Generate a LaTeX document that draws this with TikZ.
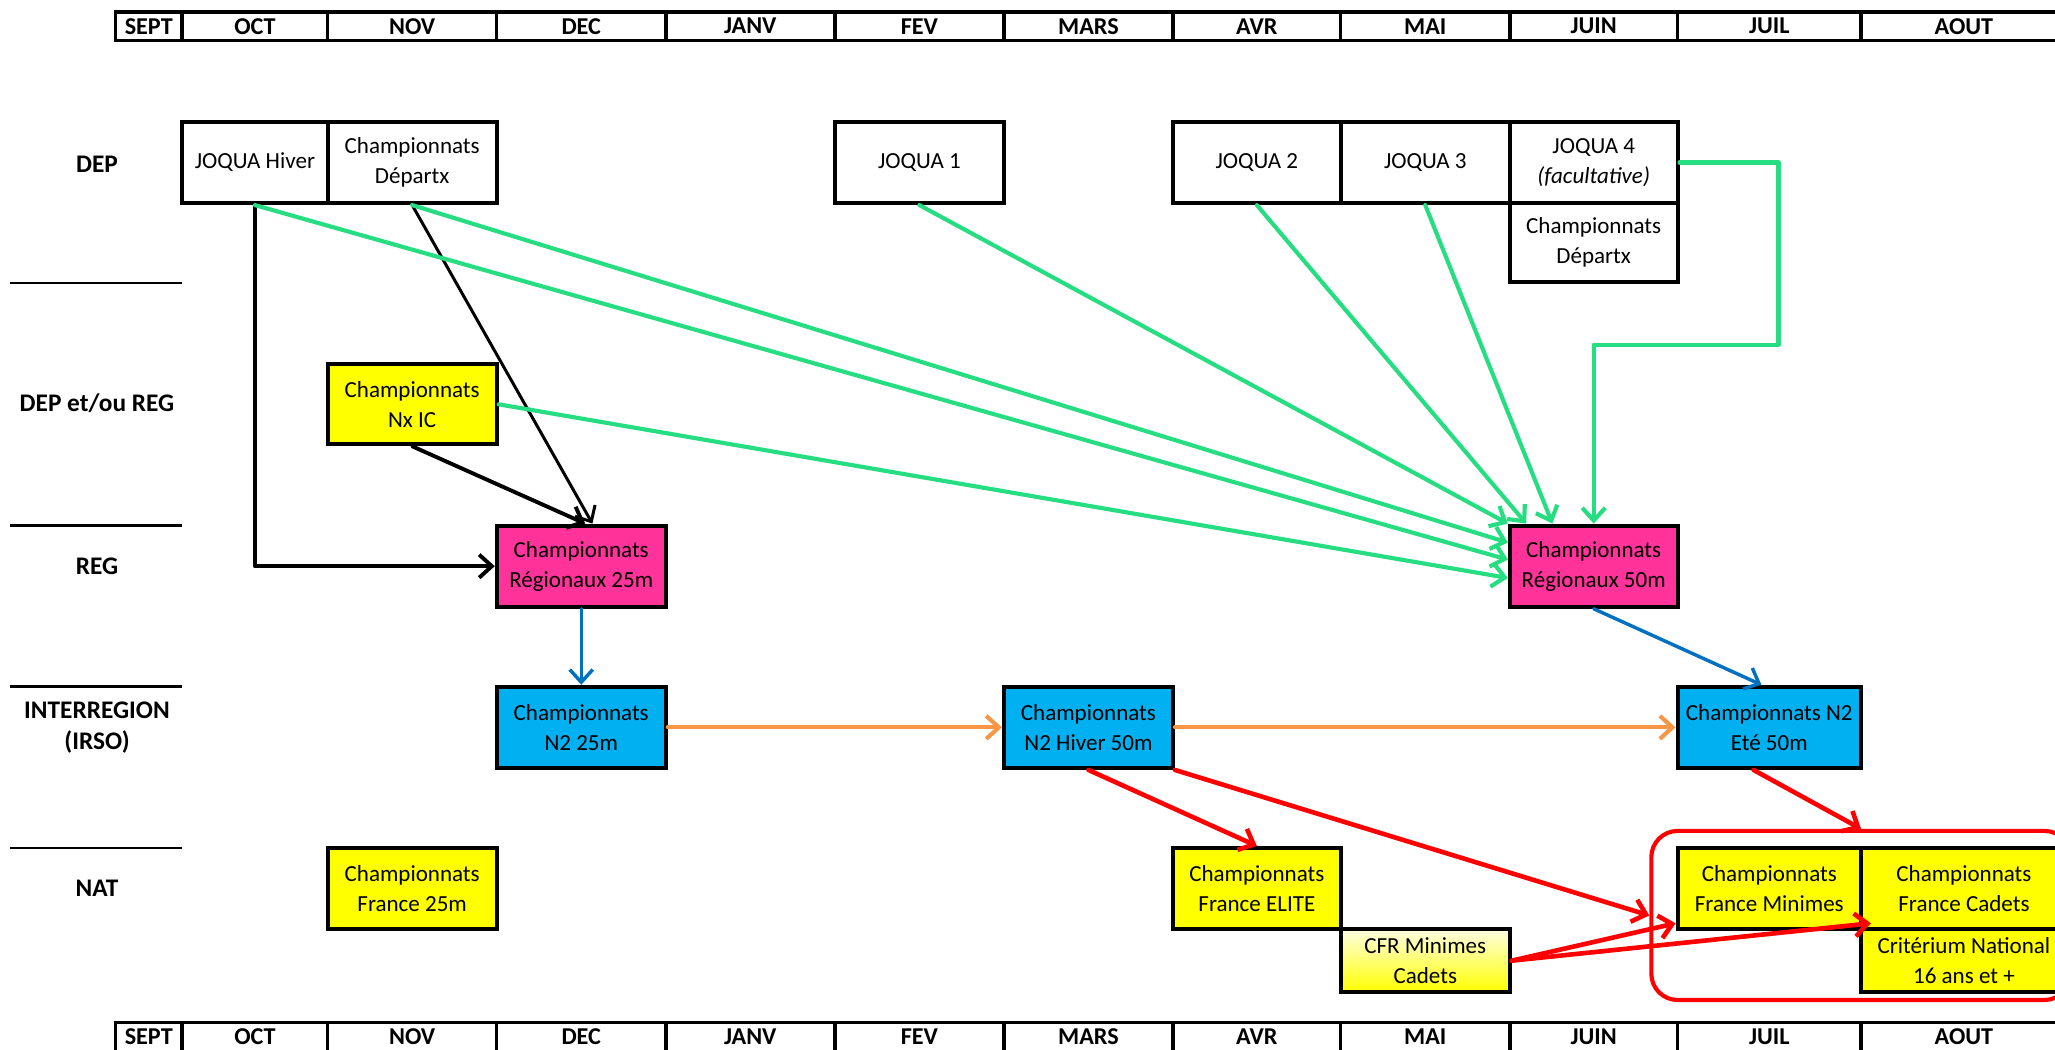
\documentclass[tikz,border=0pt]{standalone}
\usepackage{fontspec}
\setmainfont{Carlito}
\usetikzlibrary{arrows.meta,fit,calc}
\definecolor{gGreen}{RGB}{38,222,129}
\definecolor{gPink}{RGB}{255,51,153}
\definecolor{gCyan}{RGB}{0,176,240}
\definecolor{gOrange}{RGB}{247,150,70}
\definecolor{gBlue}{RGB}{0,112,192}
\definecolor{gYellow}{RGB}{255,255,0}
\definecolor{gRed}{RGB}{255,0,0}
% #1 options, #2 name, #3 x1, #4 y1, #5 x2, #6 y2, #7 text
\newcommand\bx[7][]{%
  \node[box,#1,minimum width={(#5-#3)*0.02cm},minimum height={(#6-#4)*0.02cm}]
    (#2) at ({(#3+#5)/2},{(#4+#6)/2}) {#7};}
\begin{document}
\begin{tikzpicture}[x=0.02cm,y=-0.02cm,
  box/.style={draw=black, line width=1.7pt, inner sep=0pt, align=center,
              font=\fontsize{10}{13}\selectfont, text=black},
  hdr/.style={draw=black, line width=1.5pt},
  hlab/.style={font=\bfseries\fontsize{10.5}{12}\selectfont, inner sep=0pt},
  rlab/.style={font=\bfseries\fontsize{11}{13.5}\selectfont, align=center, inner sep=0pt},
  sep/.style={draw=black, line width=1.2pt},
  conn/.style={line cap=round, line join=round,
               -{Straight Barb[length=5.5pt,width=10pt]}},
  garr/.style={conn, draw=gGreen, line width=1.8pt},
  karr/.style={conn, draw=black, line width=1.7pt},
  barr/.style={conn, draw=gBlue, line width=1.5pt},
  oarr/.style={conn, draw=gOrange, line width=1.8pt},
  rarr/.style={conn, draw=gRed, line width=2pt}
]
\useasboundingbox (0,0) rectangle (1568,801);
\clip (0,0) rectangle (1568,801);

% header and footer
\foreach \a/\b/\t [count=\i] in {88/139/SEPT,139/250/OCT,250/379/NOV,379/508/DEC,508/637/JANV,637/766/FEV,766/895/MARS,895/1023/AVR,1023/1152/MAI,1152/1280/JUIN,1280/1420/JUIL,1420/1577/AOUT}{
  \draw[hdr] (\a,9) rectangle (\b,31);
  \node[hlab] (h\i) at ({(\a+\b)/2},20) {\t};
  \draw[hdr] (\a,780) rectangle (\b,806);
  \node[hlab] (f\i) at ({(\a+\b)/2},791) {\t};
}

% row labels
\node[rlab] (lDEP) at (74,125) {DEP};
\node[rlab] (lDR) at (74,308) {DEP et/ou REG};
\node[rlab] (lREG) at (74,432) {REG};
\node[rlab] (lIR) at (74,555) {INTERREGION\\(IRSO)};
\node[rlab] (lNAT) at (74,678) {NAT};
\draw[black, line width=0.6pt] (8,216) -- (139,216);
\draw[sep] (8,401) -- (139,401);
\draw[sep] (8,524) -- (139,524);
\draw[sep] (8,647) -- (139,647);

% DEP boxes
\bx{jh}{139}{93}{250}{155}{JOQUA Hiver}
\bx{dpx}{250}{93}{379}{155}{Championnats\\Départx}
\bx{j1}{637}{93}{766}{155}{JOQUA 1}
\bx{j2}{895}{93}{1023}{155}{JOQUA 2}
\bx{j3}{1023}{93}{1152}{155}{JOQUA 3}
\bx{j4}{1152}{93}{1280}{155}{JOQUA 4\\\textit{(facultative)}}
\bx{dpx2}{1152}{155}{1280}{215}{Championnats\\Départx}

% DEP et/ou REG
\bx[fill=gYellow]{nxic}{250}{278}{379}{339}{Championnats\\Nx IC}

% REG
\bx[fill=gPink]{r25}{379}{401}{508}{463}{Championnats\\Régionaux 25m}
\bx[fill=gPink]{r50}{1152}{401}{1280}{463}{Championnats\\Régionaux 50m}

% INTERREGION
\bx[fill=gCyan]{n225}{379}{524}{508}{586}{Championnats\\N2 25m}
\bx[fill=gCyan]{n2h}{766}{524}{895}{586}{Championnats\\N2 Hiver 50m}
\bx[fill=gCyan]{n2e}{1280}{524}{1420}{586}{Championnats N2\\Eté 50m}

% NAT
\bx[fill=gYellow]{f25}{250}{647}{379}{709}{Championnats\\France 25m}
\bx[fill=gYellow]{elite}{895}{647}{1023}{709}{Championnats\\France ELITE}
\bx[top color={rgb,255:red,255;green,255;blue,225}, bottom color=gYellow]{cfr}{1023}{709}{1152}{757}{CFR Minimes\\Cadets}
\bx[fill=gYellow]{fmin}{1280}{647}{1420}{709}{Championnats\\France Minimes}
\bx[fill=gYellow]{fcad}{1420}{647}{1577}{709}{Championnats\\France Cadets}
\bx[fill=gYellow]{crit}{1420}{709}{1577}{757}{Critérium National\\16 ans et +}
\node[draw=gRed, line width=1.8pt, rounded corners=0.4cm, inner sep=0pt, fit={(1260,634) (1580,763)}] (grp) {};

% black connectors
\draw[karr] (jh.south) |- (r25.west);
\draw[karr, line width=1.3pt] (dpx.south) -- ([xshift=0.17cm]r25.north);
\draw[karr] (nxic.south) -- ([xshift=0.06cm]r25.north);

% green connectors
\draw[garr] (jh.south) -- ([yshift=0.1cm]r50.west);
\draw[garr] (dpx.south) -- ([yshift=0.36cm]r50.west);
\draw[garr] (nxic.east) -- ([yshift=-0.18cm]r50.west);
\draw[garr] (j1.south) -- (r50.north west);
\draw[garr] (j2.south) -- ([xshift=0.28cm]r50.north west);
\draw[garr] (j3.south) -- ([xshift=0.68cm]r50.north west);
\coordinate (k1) at (1357,263);
\draw[garr] (j4.east) -| (k1) -| (r50.north);

% blue connectors
\draw[barr] (r25.south) -- (n225.north);
\draw[barr] (r50.south) -- ([xshift=-0.12cm]n2e.north);

% orange connectors
\draw[oarr] (n225.east) -- (n2h.west);
\draw[oarr] (n2h.east) -- (n2e.west);

% red connectors
\draw[rarr] (n2h.south) -- (elite.north);
\draw[rarr] (n2h.south east) -- (grp.west);
\draw[rarr] ([xshift=-0.24cm]n2e.south) -- (grp.north);
\draw[rarr] (cfr.east) -- ([yshift=0.12cm]fmin.south west);
\draw[rarr] (cfr.east) -- ([shift={(0.18cm,0.12cm)}]fcad.south west);
\end{tikzpicture}
\end{document}
